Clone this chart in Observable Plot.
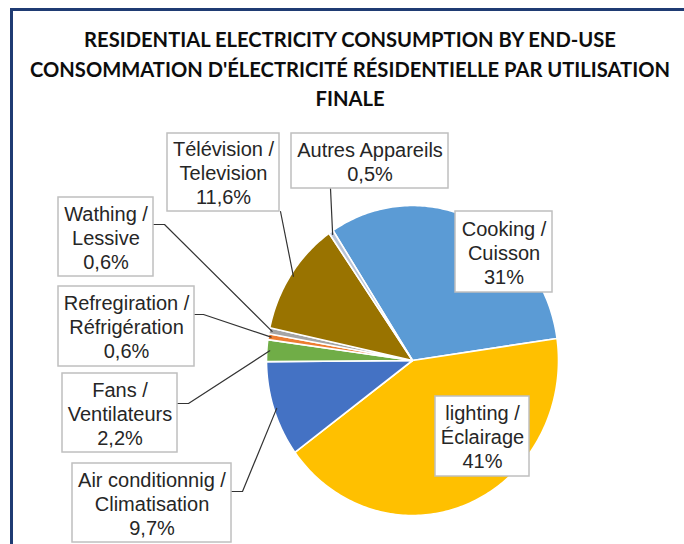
<!DOCTYPE html>
<html><head><meta charset="utf-8">
<script src="https://cdn.jsdelivr.net/npm/d3@7"></script>
<script src="https://cdn.jsdelivr.net/npm/@observablehq/plot@0.6"></script>
<style>
body{margin:0;background:#fff;}
#wrap{position:relative;width:684px;height:544px;overflow:hidden;background:#fff;}
.frame{position:absolute;background:#1F3B73;}
#title{position:absolute;left:0;top:0;}
#chart{position:absolute;left:0;top:115px;}
</style></head><body>
<div id="wrap">
<svg id="title" width="684" height="115"></svg>
<div id="chart"></div>
<div class="frame" style="left:10px;top:8px;width:674px;height:3px"></div>
<div class="frame" style="left:10px;top:8px;width:3px;height:536px"></div>
</div>
<script>
// ---- data ----
const titleLines = [
  "RESIDENTIAL ELECTRICITY CONSUMPTION BY END-USE",
  "CONSOMMATION D'ÉLECTRICITÉ RÉSIDENTIELLE PAR UTILISATION",
  "FINALE"
];
const categories = [
  "Cooking / Cuisson",
  "lighting / Éclairage",
  "Air conditionnig / Climatisation",
  "Fans / Ventilateurs",
  "Refregiration / Réfrigération",
  "Wathing / Lessive",
  "Télévision / Television",
  "Autres Appareils"
];
const values = [31, 41, 9.7, 2.2, 0.6, 0.6, 11.6, 0.5];
const colors = ["#5B9BD5", "#FFC000", "#4472C4", "#70AD47", "#ED7D31", "#A5A5A5", "#997300", "#B9C4D6"];

// ---- layout (pixels in the chart SVG) ----
const W = 684, H = 429;
const cx = 412, cy = 245, rx = 146, ry = 155;
const startDeg = -33;
// label boxes: [x1, y1, x2, y2], leader start, optional knee
const labelLayout = [
  {box: [455, 96, 552, 177]},
  {box: [435, 281, 529, 361]},
  {box: [72, 348, 231, 427], from: [231, 376], knee: [242, 376]},
  {box: [62, 258, 177, 337], from: [177, 288], knee: [188, 288]},
  {box: [58, 171, 194, 251], from: [194, 199], knee: [203, 199]},
  {box: [58, 82, 153, 161], from: [153, 109], knee: [164, 109]},
  {box: [167, 18, 279, 96], from: [280, 96]},
  {box: [291, 18, 448, 73], from: [330, 73]}
];

// ---- title ----
const tsvg = d3.select("#title");
const tys = [47, 77, 106];
const tnodes = titleLines.map((t, i) => tsvg.append("text")
  .attr("x", 350).attr("y", tys[i]).attr("text-anchor", "middle")
  .attr("font-family", "Lato, 'Open Sans', sans-serif").attr("font-weight", 700)
  .attr("font-size", 20).attr("fill", "#0d0d0d").text(t));
const natural = tnodes[1].node().getComputedTextLength();
const fs = Math.min(24, 20 * 640 / natural);
tnodes.forEach(n => n.attr("font-size", fs.toFixed(2)));

// ---- pie geometry ----
const rad = Math.PI / 180;
const a0 = startDeg * rad;
const arcs = d3.pie().sort(null).startAngle(a0).endAngle(a0 + 2 * Math.PI)(values);
const pt = (a, r) => ({x: cx + rx * r * Math.sin(a), y: cy - ry * r * Math.cos(a)});
function slicePts(arc) {
  const pts = [{x: cx, y: cy}];
  const n = Math.max(2, Math.ceil((arc.endAngle - arc.startAngle) / rad));
  for (let i = 0; i <= n; i++) pts.push(pt(arc.startAngle + (arc.endAngle - arc.startAngle) * i / n, 1));
  pts.push({x: cx, y: cy});
  return pts;
}
const fmt = v => String(v).replace(".", ",") + "%";

const labels = categories.map((c, i) => {
  const L = labelLayout[i];
  const parts = c.includes(" / ") ? [c.split(" / ")[0] + " /", c.split(" / ")[1]] : [c];
  return {
    x1: L.box[0], y1: L.box[1], x2: L.box[2], y2: L.box[3],
    tx: (L.box[0] + L.box[2]) / 2, ty: (L.box[1] + L.box[3]) / 2,
    text: [...parts, fmt(values[i])].join("\n")
  };
});
const leaders = [];
arcs.forEach((arc, i) => {
  const L = labelLayout[i];
  if (!L.from) return;
  const mid = (arc.startAngle + arc.endAngle) / 2;
  leaders.push({id: i, x: L.from[0], y: L.from[1]});
  if (L.knee) leaders.push({id: i, x: L.knee[0], y: L.knee[1]});
  const e = pt(mid, 0.98);
  leaders.push({id: i, x: e.x, y: e.y});
});

const chart = Plot.plot({
  width: W, height: H, margin: 0,
  x: {domain: [0, W], range: [0, W], axis: null},
  y: {domain: [0, H], range: [0, H], axis: null},
  style: {background: "transparent"},
  marks: [
    ...arcs.map((arc, i) => Plot.line(slicePts(arc), {x: "x", y: "y", fill: colors[i], stroke: "#fff", strokeWidth: 1.6, strokeLinejoin: "round", curve: "linear"})),
    Plot.line(leaders, {x: "x", y: "y", z: "id", stroke: "#333", strokeWidth: 1.2}),
    Plot.rect(labels, {x1: "x1", x2: "x2", y1: "y1", y2: "y2", fill: "#fff", stroke: "#BFBFBF", strokeWidth: 1.5}),
    Plot.text(labels, {x: "tx", y: "ty", text: "text", lineHeight: 1.2, fontSize: 20, fill: "#262626", fontFamily: "'Liberation Sans', Arial, sans-serif"})
  ]
});
document.getElementById("chart").appendChild(chart);
</script>
</body></html>
